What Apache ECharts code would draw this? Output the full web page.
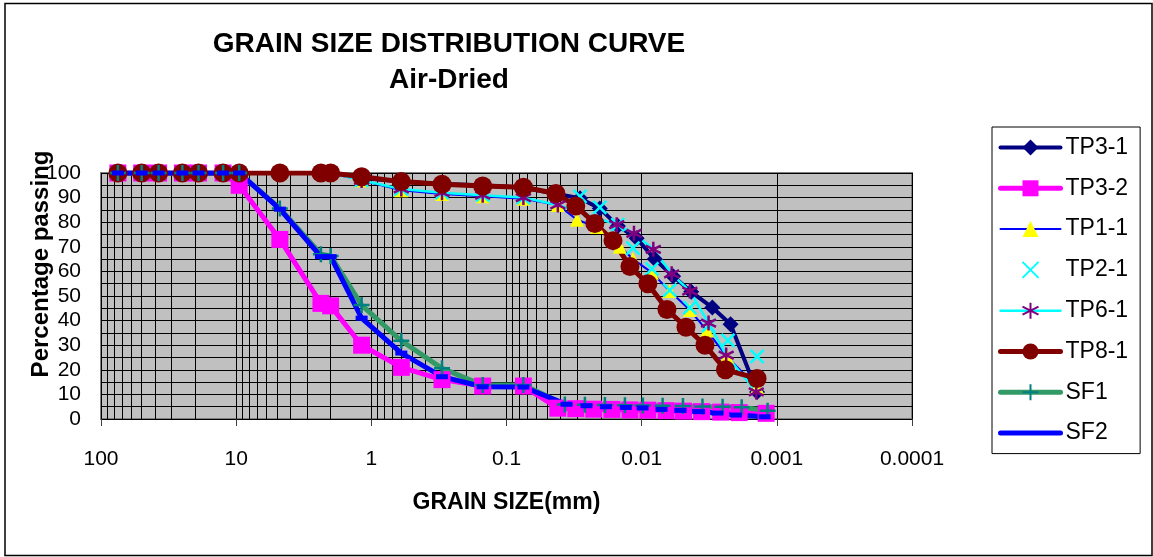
<!DOCTYPE html>
<html>
<head>
<meta charset="utf-8">
<title>Grain size distribution curve</title>
<script src="https://cdn.jsdelivr.net/npm/echarts@6/dist/echarts.min.js"></script>
<style>
  html, body { margin: 0; padding: 0; background: #fff; }
  #chart { width: 1153px; height: 557px; }
</style>
</head>
<body>
<div id="chart"></div>
<script>
// sieve sizes (mm), same for every sample
const sieveSize = [75, 50, 37.5, 25, 19, 12.5, 9.5, 4.75, 2.36, 2.0, 1.18, 0.6, 0.3, 0.15, 0.075];

const tp31Sieve = [100, 100, 100, 100, 100, 100, 100, 100, 100, 100, 98, 96.5, 95.5, 95, 94];
const tp31HydroSize = [0.0286, 0.0204, 0.015, 0.0109, 0.008, 0.00585, 0.0043, 0.003, 0.0022, 0.0014];
const tp31HydroPass = [89.7, 85.6, 78.5, 73.5, 65, 58, 51.7, 45.3, 38.5, 11];

const tp32Sieve = [100, 100, 100, 100, 100, 100, 95, 73, 47, 46, 30, 21, 16, 13.4, 13.4];
const tp32HydroSize = [0.0417, 0.0307, 0.0226, 0.0166, 0.0122, 0.009, 0.0066, 0.0049, 0.0036, 0.0026, 0.0019, 0.0012];
const tp32HydroPass = [4.4, 4.2, 4.0, 3.9, 3.7, 3.6, 3.4, 3.2, 3.0, 2.8, 2.6, 2.3];

const tp11Sieve = [100, 100, 100, 100, 100, 100, 100, 100, 100, 100, 97, 93, 91.5, 90.5, 89.5];
const tp11HydroSize = [0.0417, 0.0301, 0.0214, 0.0145, 0.0116, 0.0084, 0.0062, 0.0044, 0.0033, 0.00234, 0.0014];
const tp11HydroPass = [87, 81, 78, 70, 65, 59.5, 52, 44.3, 36, 25.3, 13];

const tp21Sieve = [100, 100, 100, 100, 100, 100, 100, 100, 100, 100, 97, 93.5, 92, 91, 90];
const tp21HydroSize = [0.0286, 0.0204, 0.015, 0.0116, 0.0084, 0.0062, 0.0044, 0.0032, 0.0023, 0.0014];
const tp21HydroPass = [90.5, 86, 79, 69.5, 61, 52.4, 45.3, 38, 32, 25.5];

const tp61Sieve = [100, 100, 100, 100, 100, 100, 100, 100, 100, 100, 97, 93.5, 92, 91, 90];
const tp61HydroSize = [0.0417, 0.0153, 0.0114, 0.0082, 0.006, 0.0044, 0.0032, 0.00237, 0.00142];
const tp61HydroPass = [87, 79, 75.5, 69, 59, 52, 39, 26, 11];

const tp81Sieve = [100, 100, 100, 100, 100, 100, 100, 100, 100, 100, 98.5, 96.5, 95.4, 94.7, 94.2];
const tp81HydroSize = [0.0431, 0.0307, 0.0222, 0.0163, 0.0122, 0.009, 0.0065, 0.0047, 0.0034, 0.0024, 0.0014];
const tp81HydroPass = [91.7, 86.6, 79.5, 72.5, 62, 55, 44.5, 37.3, 30, 20, 16.5];

const sf1Sieve = [100, 100, 100, 100, 100, 100, 100, 85.6, 67, 66.3, 46.3, 31.8, 20.6, 13.8, 13.8];
const sf1HydroSize = [0.037, 0.0263, 0.0187, 0.0133, 0.0098, 0.007, 0.00495, 0.00355, 0.00252, 0.00182, 0.00117];
const sf1HydroPass = [5.9, 5.8, 5.7, 5.6, 5.5, 5.4, 5.3, 5.1, 5.0, 4.8, 3.4];

const sf2Sieve = [100, 100, 100, 100, 100, 100, 100, 85.3, 66, 66, 41, 26.8, 17.2, 13.1, 13];
const sf2HydroSize = [0.036, 0.0256, 0.0184, 0.0131, 0.00984, 0.00713, 0.00515, 0.00376, 0.00275, 0.00201, 0.00123];
const sf2HydroPass = [6.0, 5.4, 5.0, 4.7, 4.5, 3.9, 3.5, 3.0, 2.4, 1.6, 0.9];

const seriesNames = ['TP3-1', 'TP3-2', 'TP1-1', 'TP2-1', 'TP6-1', 'TP8-1', 'SF1', 'SF2'];
const xTickLabels = ['100', '10', '1', '0.1', '0.01', '0.001', '0.0001'];

const FONT = '"Liberation Sans", Arial, Helvetica, sans-serif';

// x, star and plus markers are drawn as stroked paths
const CROSS = 'path://M0,0L10,10M10,0L0,10';
const STAR = 'path://M5,0L5,10M0.7,2.5L9.3,7.5M9.3,2.5L0.7,7.5';
const PLUS = 'path://M5,0L5,10M0,5L10,5';
const DASH = 'path://M0,0L12,0L12,5L0,5Z';

function pairs(sizes, pass) {
    return sizes.map((s, i) => [s, pass[i]]);
}

function makeSeries(name, data, line, marker) {
    return Object.assign({
        name: name,
        type: 'line',
        data: data,
        z: 2,
        emphasis: { disabled: true },
        lineStyle: line
    }, marker);
}

// minor log gridlines 2..9 of every decade
const minorGrid = [];
for (let e = -4; e <= 1; e++) {
    for (let m = 2; m <= 9; m++) {
        minorGrid.push({ xAxis: +(m * Math.pow(10, e)).toPrecision(2) });
    }
}

// legend: keep the series line width, hide the SF2 dash (it sits inside the line)
const legendData = seriesNames.map(n => n === 'SF2' ? { name: n, itemStyle: { opacity: 0 } } : { name: n });

const chart = echarts.init(document.getElementById('chart'));

chart.setOption({
    animation: false,
    backgroundColor: '#fff',
    graphic: [{
        type: 'rect',
        shape: { x: 5, y: 3.5, width: 1147, height: 552 },
        style: { fill: 'none', stroke: '#000', lineWidth: 1.5 },
        silent: true
    }],
    title: {
        text: 'GRAIN SIZE DISTRIBUTION CURVE',
        subtext: 'Air-Dried',
        left: 449,
        top: 29,
        padding: 0,
        itemGap: 6,
        textAlign: 'center',
        textStyle: { fontFamily: FONT, fontSize: 28, fontWeight: 'bold', color: '#000', lineHeight: 30 },
        subtextStyle: { fontFamily: FONT, fontSize: 28, fontWeight: 'bold', color: '#000', lineHeight: 30 }
    },
    legend: {
        data: legendData,
        orient: 'vertical',
        left: 992,
        top: 127,
        padding: [9, 12, 9, 6],
        itemWidth: 60,
        itemHeight: 20,
        itemGap: 17.8,
        backgroundColor: '#fff',
        borderColor: '#000',
        borderWidth: 1,
        borderRadius: 0,
        selectedMode: false,
        lineStyle: { width: 'inherit', cap: 'round' },
        textStyle: { fontFamily: FONT, fontSize: 23, color: '#000' }
    },
    grid: {
        left: 101,
        top: 173,
        right: 241,
        bottom: 138,
        show: true,
        backgroundColor: '#C0C0C0',
        borderColor: '#808080',
        borderWidth: 2
    },
    xAxis: {
        type: 'log',
        logBase: 10,
        min: 0.0001,
        max: 100,
        inverse: true,
        splitNumber: 6,
        name: 'GRAIN SIZE(mm)',
        nameLocation: 'middle',
        nameGap: 72,
        nameTextStyle: { fontFamily: FONT, fontSize: 23, fontWeight: 'bold', color: '#000' },
        axisLine: { show: false },
        axisTick: { show: true, length: 7, lineStyle: { color: '#404040' } },
        axisLabel: {
            margin: 30,
            fontFamily: FONT,
            fontSize: 21,
            color: '#000',
            formatter: v => xTickLabels[Math.round(2 - Math.log10(v))]
        },
        splitLine: { show: true, lineStyle: { color: '#000', width: 1 } }
    },
    yAxis: {
        type: 'value',
        min: 0,
        max: 100,
        interval: 10,
        name: 'Percentage passing',
        nameLocation: 'middle',
        nameGap: 48,
        nameMoveOverlap: false,
        nameTextStyle: { fontFamily: FONT, fontSize: 24, fontWeight: 'bold', color: '#000', padding: [0, 0, 0, 64] },
        axisLine: { show: false },
        axisTick: { show: true, inside: true, length: 6, lineStyle: { color: '#000' } },
        axisLabel: { margin: 20, fontFamily: FONT, fontSize: 21, color: '#000' },
        splitLine: { show: true, lineStyle: { color: '#000', width: 1 } },
        minorTick: { show: false, splitNumber: 2 },
        minorSplitLine: { show: true, lineStyle: { color: '#000', width: 1 } }
    },
    series: [
        {
            type: 'line',
            data: [],
            silent: true,
            markLine: {
                z: 1,
                silent: true,
                symbol: ['none', 'none'],
                label: { show: false },
                emphasis: { disabled: true },
                lineStyle: { color: '#000', width: 1, type: 'solid' },
                data: minorGrid
            }
        },
        makeSeries('TP3-1', pairs(sieveSize, tp31Sieve).concat(pairs(tp31HydroSize, tp31HydroPass)),
            { color: '#000080', width: 4 },
            { symbol: 'diamond', symbolSize: 16, itemStyle: { color: '#000080' } }),
        makeSeries('TP3-2', pairs(sieveSize, tp32Sieve).concat(pairs(tp32HydroSize, tp32HydroPass)),
            { color: '#FF00FF', width: 5 },
            { symbol: 'rect', symbolSize: 17, itemStyle: { color: '#FF00FF' } }),
        makeSeries('TP1-1', pairs(sieveSize, tp11Sieve).concat(pairs(tp11HydroSize, tp11HydroPass)),
            { color: '#0000FF', width: 2 },
            { symbol: 'triangle', symbolSize: 14, itemStyle: { color: '#FFFF00' } }),
        makeSeries('TP2-1', pairs(sieveSize, tp21Sieve).concat(pairs(tp21HydroSize, tp21HydroPass)),
            { color: '#00FFFF', width: 0, opacity: 0 },
            { symbol: CROSS, symbolSize: 13, itemStyle: { color: '#00FFFF', borderColor: '#00FFFF', borderWidth: 2.5 } }),
        makeSeries('TP6-1', pairs(sieveSize, tp61Sieve).concat(pairs(tp61HydroSize, tp61HydroPass)),
            { color: '#00FFFF', width: 2.5 },
            { symbol: STAR, symbolSize: 15, itemStyle: { color: '#800080', borderColor: '#800080', borderWidth: 2.5 } }),
        makeSeries('TP8-1', pairs(sieveSize, tp81Sieve).concat(pairs(tp81HydroSize, tp81HydroPass)),
            { color: '#800000', width: 5 },
            { symbol: 'circle', symbolSize: 19, itemStyle: { color: '#800000' } }),
        makeSeries('SF1', pairs(sieveSize, sf1Sieve).concat(pairs(sf1HydroSize, sf1HydroPass)),
            { color: '#339966', width: 5 },
            { symbol: PLUS, symbolSize: 16, itemStyle: { color: '#008080', borderColor: '#008080', borderWidth: 2.5 } }),
        makeSeries('SF2', pairs(sieveSize, sf2Sieve).concat(pairs(sf2HydroSize, sf2HydroPass)),
            { color: '#0000FF', width: 5 },
            { symbol: DASH, symbolSize: 12, symbolKeepAspect: true, itemStyle: { color: '#0000FF' } })
    ]
});
</script>
</body>
</html>
